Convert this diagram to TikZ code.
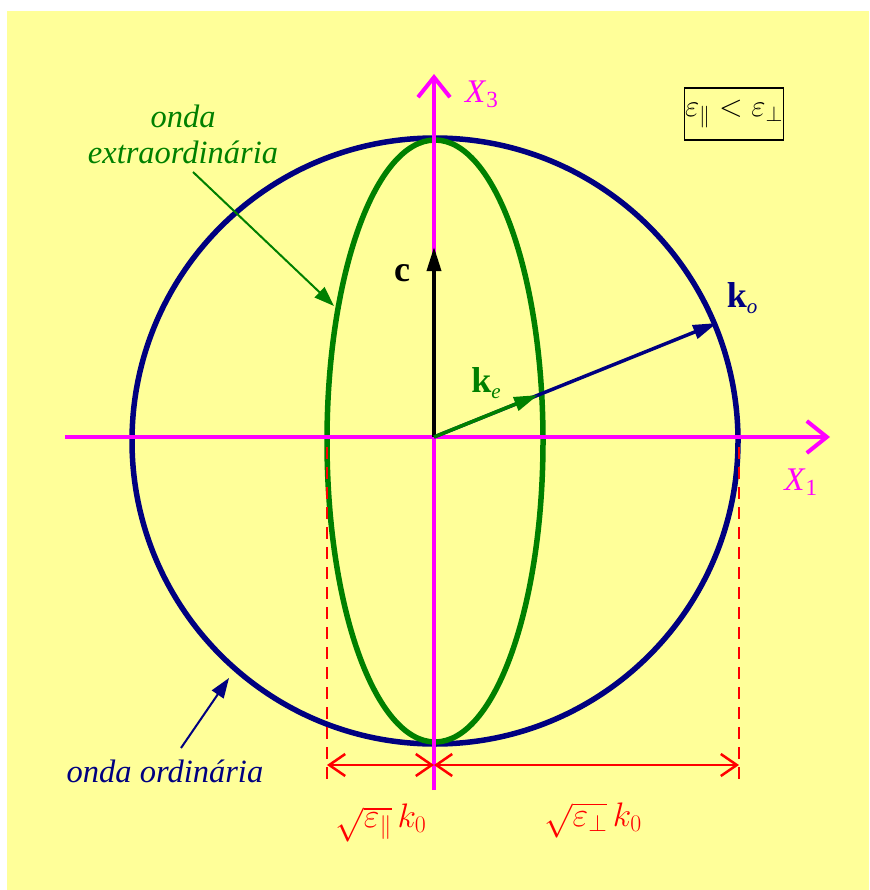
\documentclass[tikz,border=0pt]{standalone}
\usepackage{fix-cm}
\usepackage{fontspec}
\setmainfont{Liberation Serif}
\usetikzlibrary{arrows.meta}
\definecolor{bgyellow}{RGB}{255,255,153}
\definecolor{navyc}{RGB}{0,0,128}
\definecolor{greenc}{RGB}{0,128,0}
\definecolor{magc}{RGB}{255,0,255}
\definecolor{redc}{RGB}{255,0,0}
\tikzset{
  axisline/.style={magc, line width=4pt, -{Straight Barb[length=20pt,width=32pt,line width=4pt]}},
  dimline/.style={redc, line width=2.5pt, {Straight Barb[length=16pt,width=22pt]}-{Straight Barb[length=16pt,width=22pt]}},
  dashline/.style={redc, line width=2.5pt, dash pattern=on 12pt off 8pt},
  vecarrow/.style={line width=3.5pt, -{Triangle[length=24pt,width=14pt]}},
  labarrow/.style={line width=2pt, -{Triangle[length=20pt,width=14pt]}},
  lab/.style={font=\fontsize{33}{36}\selectfont, inner sep=0pt}
}
\begin{document}
\begin{tikzpicture}[x=1pt,y=-1pt]
\useasboundingbox (0,0) rectangle (869,890);
\fill[bgyellow] (7,11) rectangle (869,890);

% centres
\coordinate (O) at (434,437);
\coordinate (Cc) at (435,441);

% curves
\draw[navyc, line width=5.5pt] (Cc) circle[radius=303];
\draw[greenc, line width=5.5pt] (Cc) ellipse[x radius=108, y radius=301];

% dashed reference lines
\coordinate (dl1) at (327,447);
\coordinate (dl2) at (327,785);
\coordinate (dr1) at (739,447);
\coordinate (dr2) at (739,785);
\draw[dashline] (dl1) -- (dl2);
\draw[dashline] (dr1) -- (dr2);

% axes
\coordinate (xl) at (65,437);
\coordinate (xr) at (830,437);
\coordinate (yb) at (434,790);
\coordinate (yt) at (434,74);
\draw[axisline] (xl) -- (xr);
\draw[axisline] (yb) -- (yt);

% dimension arrows
\coordinate (m1) at (327,765);
\coordinate (m2) at (434,765);
\coordinate (m3) at (739,765);
\draw[dimline] (m1) -- (m2);
\draw[dimline] (m2) -- (m3);

% vectors
\coordinate (ctip) at (434,247);
\coordinate (kotip) at (717,323);
\coordinate (ketip) at (538,395);
\draw[vecarrow, black] (O) -- (ctip);
\draw[vecarrow, navyc] (O) -- (kotip);
\draw[vecarrow, greenc] (O) -- (ketip);

% labels
\node[lab, magc, anchor=west] (x3) at (465,94) {\textit{X}\textsubscript{3}};
\node[lab, magc] (x1) at (801,482) {\textit{X}\textsubscript{1}};
\node[lab, black, font=\fontsize{36}{38}\selectfont] (clab) at (402,273) {\textbf{c}};
\node[lab, greenc, font=\fontsize{36}{38}\selectfont] (kelab) at (486,383) {\textbf{k}\raisebox{-0.35ex}{\fontsize{21}{22}\selectfont\textit{e}}};
\node[lab, navyc, font=\fontsize{36}{38}\selectfont] (kolab) at (742,298) {\textbf{k}\raisebox{-0.35ex}{\fontsize{21}{22}\selectfont\textit{o}}};

\node[lab, draw=black, line width=1.2pt, minimum width=99pt, minimum height=52pt, font=\fontsize{31}{34}\selectfont] (box) at (734,114)
  {$\varepsilon_{\parallel} < \varepsilon_{\perp}$};

\node[lab, greenc, align=center, font=\fontsize{32.5}{36}\selectfont\itshape] (extra) at (183,134)
  {onda\\extraordinária};
\node[lab, navyc, font=\fontsize{32.5}{36}\selectfont\itshape] (ord) at (165,771) {onda ordinária};

\node[lab, redc, font=\fontsize{34}{36}\selectfont] (dim1) at (381,823) {$\sqrt{\varepsilon_{\parallel}}\,k_0$};
\node[lab, redc, font=\fontsize{34}{36}\selectfont] (dim2) at (593,820) {$\sqrt{\varepsilon_{\perp}}\,k_0$};

% label arrows
\coordinate (ea1) at (193,172);
\coordinate (ea2) at (334,306);
\coordinate (oa1) at (181,748);
\coordinate (oa2) at (229,678);
\draw[labarrow, greenc] (ea1) -- (ea2);
\draw[labarrow, navyc] (oa1) -- (oa2);
\end{tikzpicture}
\end{document}
